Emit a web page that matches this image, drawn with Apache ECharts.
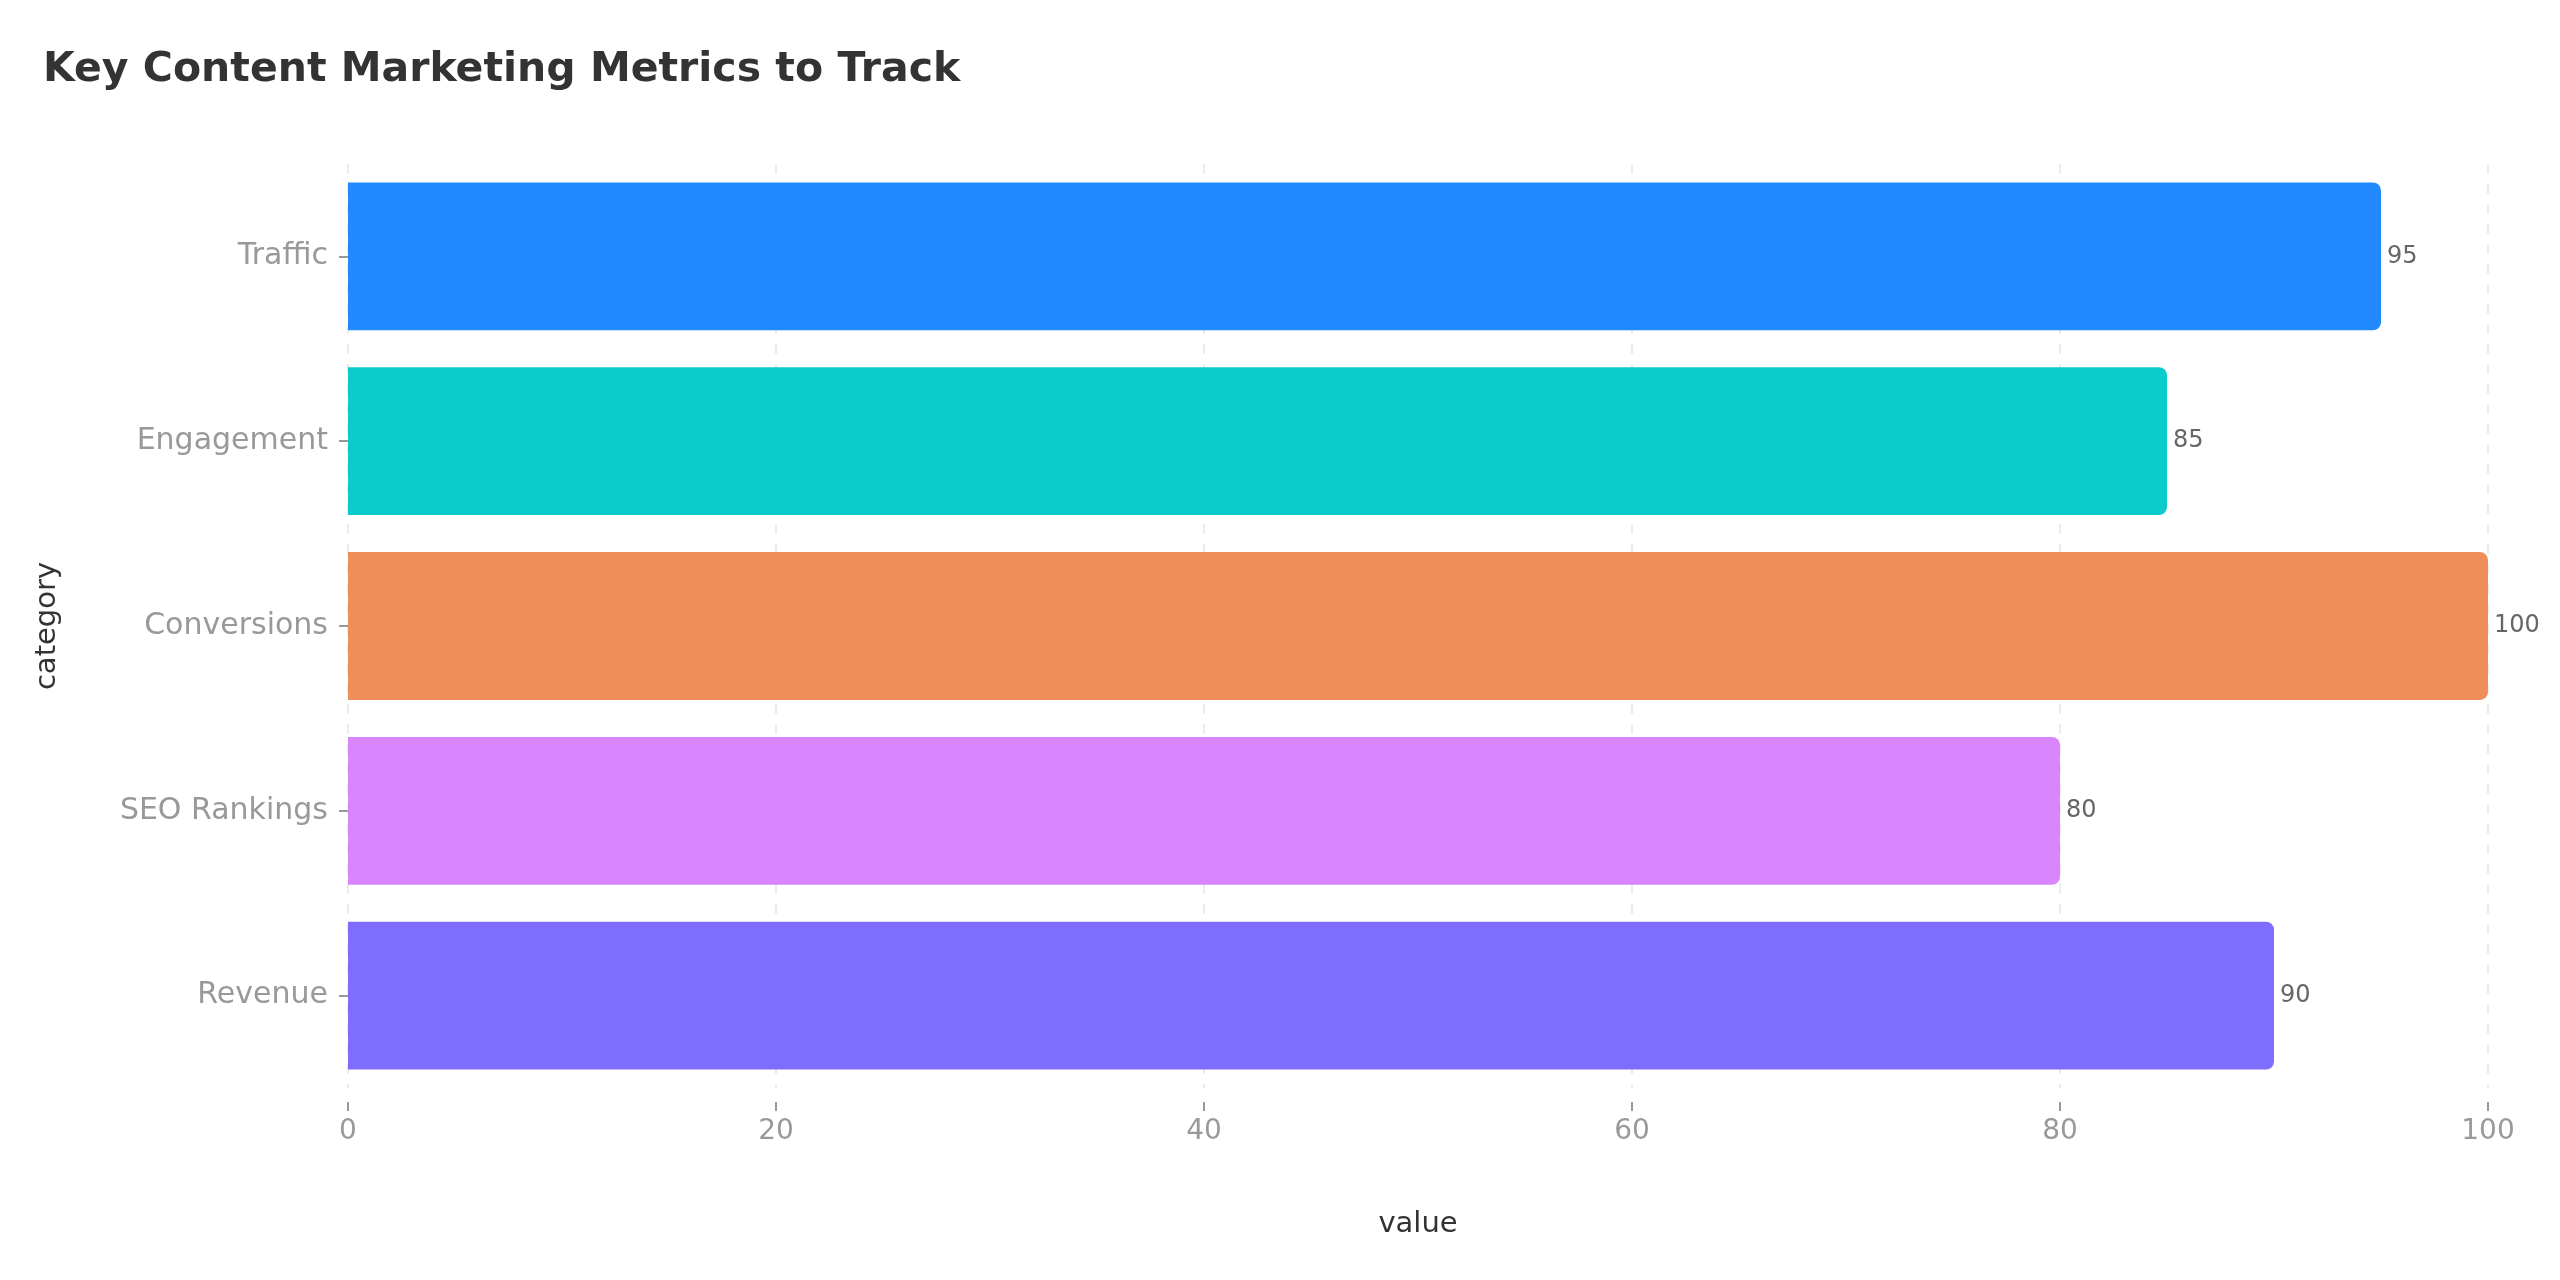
<!DOCTYPE html>
<html>
<head>
<meta charset="utf-8">
<title>Key Content Marketing Metrics to Track</title>
<script src="https://cdn.jsdelivr.net/npm/echarts@6/dist/echarts.min.js"></script>
<style>
  html, body { margin: 0; padding: 0; background: #fff; }
  #chart { width: 2560px; height: 1280px; }
</style>
</head>
<body>
<div id="chart"></div>
<script>
// data
var categories = ['Traffic', 'Engagement', 'Conversions', 'SEO Rankings', 'Revenue'];
var values = [95, 85, 100, 80, 90];
var barColors = ['#2389ff', '#0ccbcb', '#ee8f59', '#d985fe', '#7f6dfe'];

var chart = echarts.init(document.getElementById('chart'));

chart.setOption({
  backgroundColor: '#fff',
  textStyle: { fontFamily: 'DejaVu Sans' },
  title: {
    text: 'Key Content Marketing Metrics to Track',
    left: 38,
    top: 45,
    textStyle: {
      color: '#333',
      fontSize: 41,
      fontWeight: 'bold',
      fontFamily: 'DejaVu Sans'
    }
  },
  grid: {
    left: 348,
    right: 72,
    top: 164,
    bottom: 192
  },
  xAxis: {
    type: 'value',
    min: 0,
    max: 100,
    interval: 20,
    offset: 14,
    name: 'value',
    nameLocation: 'middle',
    nameGap: 108,
    nameTextStyle: { color: '#333', fontSize: 29 },
    axisLine: { show: false },
    axisTick: { show: true, length: 9, lineStyle: { color: '#999', width: 2 } },
    axisLabel: { color: '#999', fontSize: 28, margin: 16 },
    splitLine: {
      show: true,
      lineStyle: { color: '#ebebeb', type: [10, 10], width: 2 }
    }
  },
  yAxis: {
    type: 'category',
    data: categories,
    inverse: true,
    name: 'category',
    nameLocation: 'middle',
    nameGap: 286,
    nameTextStyle: { color: '#333', fontSize: 29 },
    axisLine: { show: false },
    axisTick: {
      show: true,
      alignWithLabel: true,
      length: 9,
      lineStyle: { color: '#999', width: 2 }
    },
    axisLabel: { color: '#999', fontSize: 30, margin: 20, padding: [4, 0, 0, 0] },
    splitLine: { show: false }
  },
  series: [
    {
      type: 'bar',
      data: values.map(function (v, i) {
        return { value: v, itemStyle: { color: barColors[i] } };
      }),
      barCategoryGap: '20%',
      itemStyle: { borderRadius: [0, 8, 8, 0] },
      label: {
        show: true,
        position: 'right',
        distance: 6,
        color: '#666',
        fontSize: 24
      }
    }
  ]
});
</script>
</body>
</html>
